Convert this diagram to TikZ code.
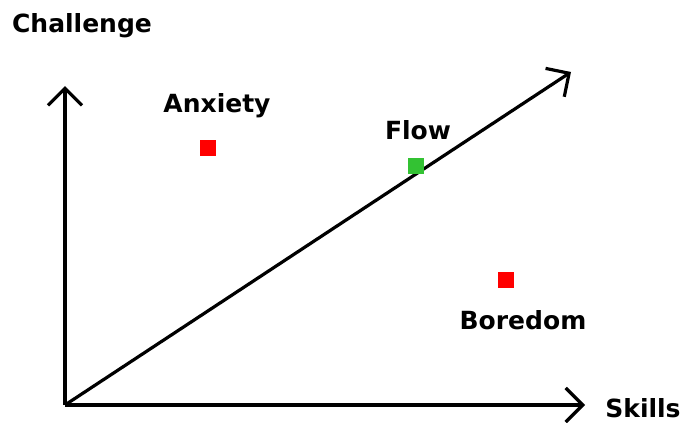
\documentclass[tikz,border=0pt]{standalone}
\usepackage{fontspec}
\setmainfont{DejaVu Sans}
\usetikzlibrary{arrows.meta}

\begin{document}
\begin{tikzpicture}[x=1pt,y=-1pt,
  axis/.style={line width=3.2pt,-{Straight Barb[length=17pt,width=34pt,line width=3.2pt]}},
  lbl/.style={font=\fontsize{25}{29}\selectfont\bfseries},
  spot/.style={minimum size=16.5pt,inner sep=0pt}]
%%%%%frame
\useasboundingbox (0,0) rectangle (683,423);
\def\ox{65}
\def\oy{405}

\coordinate (O) at (\ox,\oy);
\coordinate (ytip) at (\ox,86);
\coordinate (xtip) at (585,\oy);
\coordinate (dtip) at (571,72);

\draw[axis] (O) -- (ytip);
\draw[axis] (O) -- (xtip);
\draw[axis] (O) -- (dtip);

%%%%%labels
\node[lbl] (challenge) at (82,26) {Challenge};
\node[lbl] (skills) at (643,408) {Skills};
\node[lbl] (anxiety) at (217,106) {Anxiety};
\node[lbl] (flow) at (418,130) {Flow};
\node[lbl] (boredom) at (523,320) {Boredom};

%%%%%states
\node[spot,fill=red] (anx) at (208,148) {};
\node[spot,fill=green!70!black!80] (flw) at (416,166) {};
\node[spot,fill=red] (bor) at (506,280) {};
\end{tikzpicture}
\end{document}
